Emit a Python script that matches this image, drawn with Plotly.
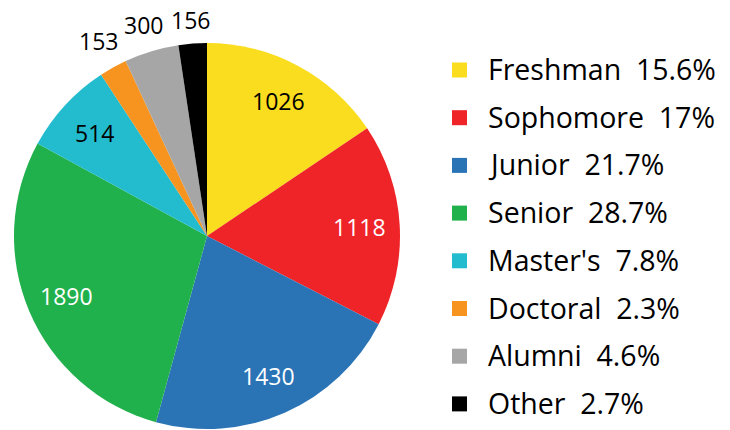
import math
import plotly.graph_objects as go

W, H = 730, 430

categories = ["Freshman", "Sophomore", "Junior", "Senior", "Master's", "Doctoral", "Alumni", "Other"]
values = [1026, 1118, 1430, 1890, 514, 153, 300, 156]
pct_labels = ["15.6%", "17%", "21.7%", "28.7%", "7.8%", "2.3%", "4.6%", "2.7%"]
colors = ["#F9DD1E", "#EE2429", "#2A74B6", "#21B14C", "#22BCCE", "#F7941F", "#A6A6A6", "#000000"]
text_colors = ["black", "white", "white", "white", "black", "black", "black", "black"]
label_outside = [False, False, False, False, False, True, True, True]

FONT = "Open Sans"
LABEL_SIZE = 23
LEGEND_SIZE = 28.5

# pie box in pixels
cx, cy, r = 207, 236, 193

fig = go.Figure()
fig.add_trace(go.Pie(
    labels=categories,
    values=values,
    marker=dict(colors=colors, line=dict(width=0)),
    sort=False,
    direction="clockwise",
    rotation=0,
    textinfo="none",
    domain=dict(x=[(cx - r) / W, (cx + r) / W], y=[1 - (cy + r) / H, 1 - (cy - r) / H]),
    automargin=False,
    showlegend=False,
    hoverinfo="label+value+percent",
))

# data labels: inside ones at a fixed fraction of the radius along each slice's
# mid-angle, outside ones just beyond the slice edge
total = sum(values)
cum = 0
gap = 12
for v, o, tc in zip(values, label_outside, text_colors):
    mid = (cum + v / 2) / total * 2 * math.pi
    cum += v
    s, c = math.sin(mid), math.cos(mid)
    txt = str(v)
    if o:
        hw = 0.572 * LABEL_SIZE * len(txt) / 2
        hh = 0.45 * LABEL_SIZE
        d = r + gap + abs(s) * hw + abs(c) * hh
    else:
        d = 0.79 * r
    px, py = cx + d * s, cy - d * c
    fig.add_annotation(xref="paper", yref="paper", x=px / W, y=1 - py / H,
                       xanchor="center", yanchor="middle", showarrow=False,
                       text=txt, font=dict(family=FONT, size=LABEL_SIZE, color=tc))

# custom legend
row0, step = 69, 47.7
sq = 15
lx_sq, lx_txt = 452, 486
for i, (cat, pct, col) in enumerate(zip(categories, pct_labels, colors)):
    yc = row0 + i * step
    fig.add_shape(type="rect", xref="paper", yref="paper",
                  x0=lx_sq / W, x1=(lx_sq + sq) / W,
                  y0=1 - (yc + 1 + sq / 2) / H, y1=1 - (yc + 1 - sq / 2) / H,
                  fillcolor=col, line=dict(width=0))
    fig.add_annotation(xref="paper", yref="paper", x=lx_txt / W, y=1 - yc / H,
                       xanchor="left", yanchor="middle", showarrow=False,
                       text=f"{cat}\u00a0\u00a0{pct}",
                       font=dict(family=FONT, size=LEGEND_SIZE, color="black"))

fig.update_layout(
    width=W, height=H,
    margin=dict(l=0, r=0, t=0, b=0, pad=0),
    paper_bgcolor="white", plot_bgcolor="white",
)

fig.write_html("out.html", config={"displayModeBar": False},
               post_script="document.body.style.margin='0px';")
